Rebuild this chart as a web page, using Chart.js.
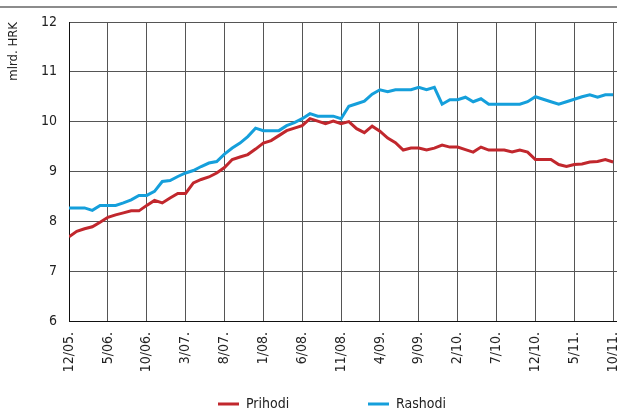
<!DOCTYPE html>
<html>
<head>
<meta charset="utf-8">
<script src="https://cdn.jsdelivr.net/npm/chart.js@4/dist/chart.umd.min.js"></script>
<style>
    html, body { margin: 0; padding: 0; background: #fff; }
    .wrap { position: relative; width: 617px; height: 412px; }
    .topline { position: absolute; left: 0; top: 6px; width: 617px; border-top: 2px solid #8c8c8c; }
    canvas { position: absolute; left: 0; top: 0; }
</style>
</head>
<body>
<div class="wrap">
    <div class="topline"></div>
    <canvas id="fiscalChart" width="617" height="412"></canvas>
</div>
<script>
// monthly values, 12/2005 .. 10/2011, billions of kuna
const tickLabels = ['12/05.', '5/06.', '10/06.', '3/07.', '8/07.', '1/08.', '6/08.', '11/08.',
    '4/09.', '9/09.', '2/10.', '7/10.', '12/10.', '5/11.', '10/11.'];

const prihodi = [
    7.69, 7.80, 7.85, 7.89, 7.98, 8.08, 8.13, 8.17, 8.21, 8.21,
    8.32, 8.42, 8.37, 8.47, 8.56, 8.56, 8.77, 8.84, 8.89, 8.97,
    9.08, 9.24, 9.29, 9.34, 9.45, 9.57, 9.62, 9.72, 9.82, 9.87,
    9.92, 10.06, 10.01, 9.96, 10.01, 9.96, 10.00, 9.86, 9.78, 9.91,
    9.81, 9.67, 9.58, 9.43, 9.47, 9.47, 9.43, 9.47, 9.53, 9.49,
    9.49, 9.44, 9.39, 9.49, 9.43, 9.43, 9.43, 9.39, 9.43, 9.39,
    9.24, 9.24, 9.24, 9.14, 9.10, 9.14, 9.15, 9.19, 9.20, 9.24,
    9.19
];

const rashodi = [
    8.27, 8.27, 8.27, 8.22, 8.32, 8.32, 8.32, 8.37, 8.43, 8.52,
    8.52, 8.60, 8.80, 8.82, 8.90, 8.97, 9.02, 9.10, 9.17, 9.20,
    9.35, 9.47, 9.57, 9.70, 9.87, 9.82, 9.82, 9.82, 9.92, 9.98,
    10.06, 10.16, 10.11, 10.11, 10.11, 10.06, 10.31, 10.36, 10.41, 10.55,
    10.64, 10.60, 10.64, 10.64, 10.64, 10.69, 10.64, 10.69, 10.35, 10.44,
    10.44, 10.49, 10.40, 10.46, 10.35, 10.35, 10.35, 10.35, 10.35, 10.40,
    10.50, 10.45, 10.40, 10.35, 10.40, 10.45, 10.50, 10.54, 10.49, 10.54,
    10.54
];

const seriesNames = ['Prihodi', 'Rashodi'];
const seriesColors = ['#c1272d', '#159fdb'];

const FONT = '"Liberation Sans Narrow", "DejaVu Sans Condensed", "Liberation Sans", sans-serif';

function toPoints(values) {
    return values.map((v, i) => ({ x: i, y: v }));
}

// legend drawn as a short line + label, spaced wider than the built-in one allows
const bottomLegend = {
    id: 'bottomLegend',
    afterDraw(chart) {
        const ctx = chart.ctx;
        const startX = [218, 368];
        const y = 404;
        ctx.save();
        ctx.font = '14px ' + FONT;
        ctx.textBaseline = 'middle';
        chart.data.datasets.forEach((ds, i) => {
            ctx.fillStyle = ds.borderColor;
            ctx.fillRect(startX[i], y - 1.5, 21, 3);
            ctx.fillStyle = '#222';
            ctx.fillText(ds.label, startX[i] + 28, y);
        });
        ctx.restore();
    }
};

function drawChart() {
    const ctx = document.getElementById('fiscalChart').getContext('2d');
    new Chart(ctx, {
        type: 'line',
        data: {
            datasets: [
                {
                    label: seriesNames[0],
                    data: toPoints(prihodi),
                    borderColor: seriesColors[0],
                    backgroundColor: seriesColors[0],
                    borderWidth: 3,
                    pointRadius: 0,
                    tension: 0
                },
                {
                    label: seriesNames[1],
                    data: toPoints(rashodi),
                    borderColor: seriesColors[1],
                    backgroundColor: seriesColors[1],
                    borderWidth: 3,
                    pointRadius: 0,
                    tension: 0
                }
            ]
        },
        options: {
            responsive: false,
            animation: false,
            layout: { autoPadding: false, padding: { top: 22, right: 0, bottom: 0, left: 0 } },
            plugins: {
                legend: { display: false },
                tooltip: { enabled: false }
            },
            scales: {
                x: {
                    type: 'linear',
                    min: 0,
                    max: 70.5,
                    afterFit: function(scale) {
                        scale.height = 91;
                        scale.paddingLeft = 0;
                        scale.paddingRight = 0;
                    },
                    grid: { color: '#555', lineWidth: 1, drawTicks: false },
                    border: { color: '#111', width: 1 },
                    ticks: {
                        stepSize: 5,
                        includeBounds: false,
                        autoSkip: false,
                        minRotation: 90,
                        maxRotation: 90,
                        padding: 11,
                        color: '#222',
                        font: { family: FONT, size: 14 },
                        callback: function(value) { return tickLabels[value / 5]; }
                    }
                },
                y: {
                    min: 6,
                    max: 12,
                    afterFit: function(scale) {
                        scale.width = 69;
                        scale.paddingTop = 0;
                        scale.paddingBottom = 0;
                    },
                    grid: { color: '#555', lineWidth: 1, drawTicks: false },
                    border: { color: '#111', width: 1 },
                    ticks: {
                        stepSize: 1,
                        padding: 12,
                        color: '#222',
                        font: { family: FONT, size: 14 }
                    },
                    title: {
                        display: true,
                        text: 'mlrd. HRK',
                        align: 'end',
                        color: '#222',
                        padding: { top: 6, bottom: 0 },
                        font: { family: FONT, size: 13 }
                    }
                }
            }
        },
        plugins: [bottomLegend]
    });
}

drawChart();
</script>
</body>
</html>
